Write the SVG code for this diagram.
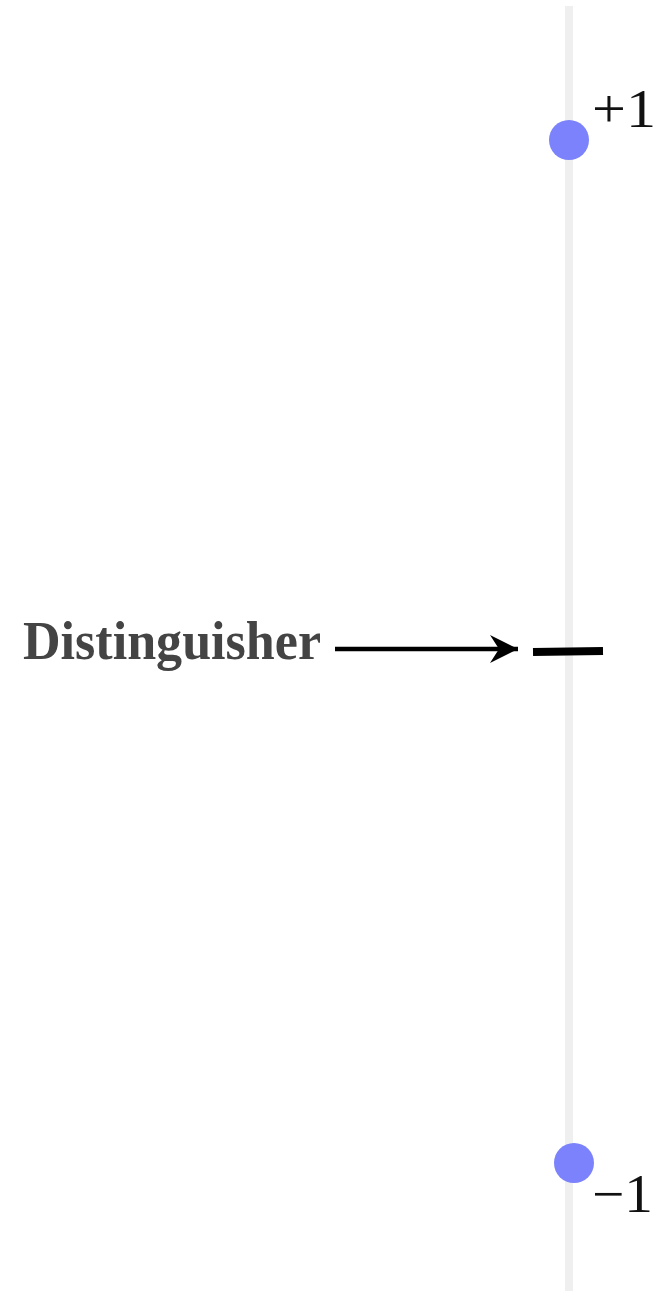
<svg xmlns="http://www.w3.org/2000/svg" width="662" height="1291" viewBox="0 0 662 1291">
<style>
.lbl{font-family:"Liberation Serif","Times New Roman",serif;fill:#111;font-size:54px}
.dot{fill:#7b82fb}
</style>
<defs>
<marker id="ah" markerWidth="30" markerHeight="30" refX="28" refY="15" orient="auto" markerUnits="userSpaceOnUse" viewBox="0 0 30 30">
<path d="M0,1 L28,15 L0,29 L9,15 Z" fill="#000"/>
</marker>
</defs>
<rect width="662" height="1291" fill="#fff"/>
<g id="axis"><rect x="565" y="6" width="8" height="1285" fill="#efefef"/></g>
<g id="plus">
<circle class="dot" cx="569" cy="140" r="20"/>
<text class="lbl" x="592" y="127" textLength="64" lengthAdjust="spacingAndGlyphs">+1</text>
</g>
<g id="minus">
<circle class="dot" cx="574" cy="1163" r="20"/>
<text class="lbl" x="592" y="1212" textLength="61" lengthAdjust="spacingAndGlyphs">−1</text>
</g>
<g id="distinguisher">
<text x="23" y="659" font-family="Liberation Serif, serif" font-weight="bold" font-size="54" fill="#444" textLength="298" lengthAdjust="spacingAndGlyphs">Distinguisher</text>
<line x1="533" y1="652" x2="603" y2="651" stroke="#000" stroke-width="8"/>
</g>
<g id="connectors">
<line x1="335" y1="649" x2="518" y2="649" stroke="#000" stroke-width="4.5" marker-end="url(#ah)"/>
</g>
</svg>
